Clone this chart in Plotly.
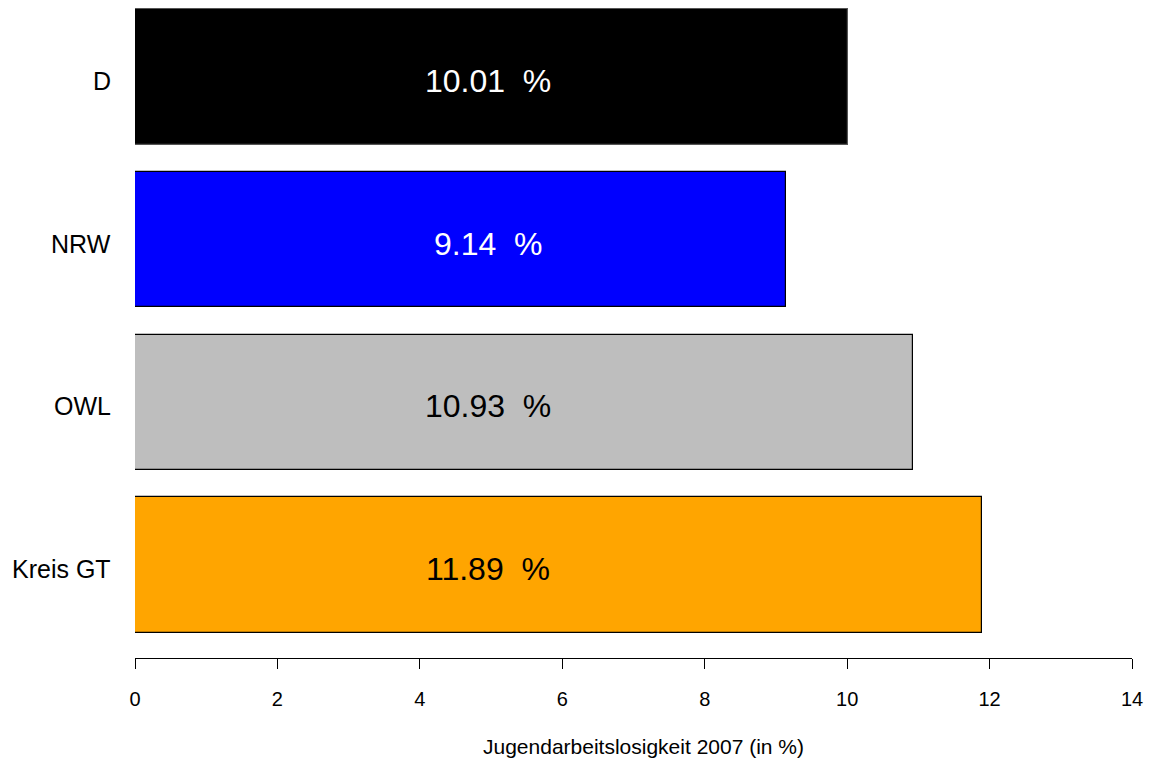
import plotly.graph_objects as go

categories = ["Kreis GT", "OWL", "NRW", "D"]
values = [11.89, 10.93, 9.14, 10.01]
colors = ["#FFA500", "#BEBEBE", "#0000FF", "#000000"]
border_colors = ["#000000", "#000000", "#000000", "#555555"]
label_colors = ["black", "black", "white", "white"]
x_ticks = [0, 2, 4, 6, 8, 10, 12, 14]

positions = list(range(len(categories)))
font = "Liberation Sans, Arial, Helvetica, sans-serif"

fig = go.Figure()
fig.add_trace(go.Bar(
    x=values, y=positions, orientation="h", width=0.8333,
    marker=dict(color=colors, line=dict(color=border_colors, width=1.2)),
    hoverinfo="skip", showlegend=False,
))

for p, v, c, cat in zip(positions, values, label_colors, categories):
    fig.add_annotation(x=5, y=p, text=f"{v:.2f}  %", showarrow=False,
                       font=dict(family=font, size=32, color=c),
                       xanchor="center", yanchor="middle", yshift=-4, xshift=-3)
    fig.add_annotation(x=0, y=p, xref="paper", yref="y", text=cat, showarrow=False,
                       font=dict(family=font, size=25, color="black"),
                       xanchor="right", yanchor="middle", xshift=-22, yshift=-4)

fig.add_annotation(x=0.5, y=-0.1354, xref="paper", yref="paper",
                   text="Jugendarbeitslosigkeit 2007 (in %)", showarrow=False,
                   font=dict(family=font, size=21, color="black"),
                   xanchor="center", yanchor="middle", xshift=10)

fig.update_layout(
    width=1144, height=750,
    margin=dict(l=127, r=20, t=0, b=100),
    paper_bgcolor="white", plot_bgcolor="white",
    bargap=0,
    xaxis=dict(range=[0, 14], tickvals=x_ticks, ticks="outside", ticklen=10,
               tickcolor="black", tickwidth=1, showline=True, linecolor="black",
               linewidth=1, showgrid=False, zeroline=False,
               tickfont=dict(family=font, size=20, color="black"),
               ticklabelstandoff=13),
    yaxis=dict(range=[-0.5716, 3.424], showticklabels=False,
               ticks="", showline=False, showgrid=False, zeroline=False),
)

fig.write_html("out.html")
